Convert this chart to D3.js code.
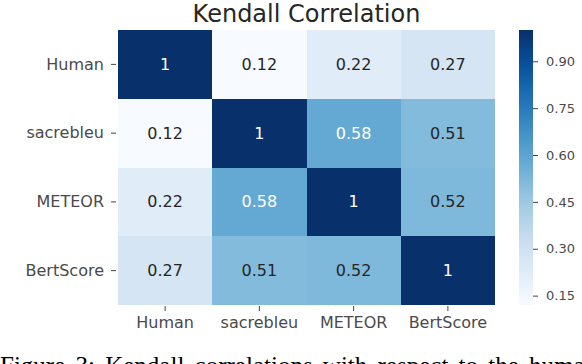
<!DOCTYPE html>
<html>
<head>
<meta charset="utf-8">
<script src="https://cdn.jsdelivr.net/npm/d3@7/dist/d3.min.js"></script>
<style>
html,body{margin:0;padding:0;background:#fff;overflow:hidden;}
svg{display:block;}
</style>
</head>
<body>
<svg id="chart" width="582" height="364"></svg>
<script>
const categories = ["Human", "sacrebleu", "METEOR", "BertScore"];
const row0 = [1, 0.12, 0.22, 0.27];
const row1 = [0.12, 1, 0.58, 0.51];
const row2 = [0.22, 0.58, 1, 0.52];
const row3 = [0.27, 0.51, 0.52, 1];
const matrix = [row0, row1, row2, row3];
const colorbarTicks = [0.15, 0.30, 0.45, 0.60, 0.75, 0.90];
const bluesStops = ["#f7fbff","#deebf7","#c6dbef","#9ecae1","#6baed6","#4292c6","#2171b5","#08519c","#08306b"];
const chartTitle = "Kendall Correlation";
const caption = "Figure 3:  Kendall correlations with respect to the human";

const svg = d3.select("#chart");
const mLeft = 118, mRight = 495, mTop = 30, mBottom = 305;

const vmin = d3.min(matrix.flat()), vmax = d3.max(matrix.flat());
const cmap = d3.scaleLinear()
  .domain(bluesStops.map((d,i)=> vmin + (vmax - vmin) * i / (bluesStops.length - 1)))
  .range(bluesStops)
  .interpolate(d3.interpolateRgb)
  .clamp(true);

const xs = d3.scaleBand().domain(categories).range([mLeft, mRight]);
const ys = d3.scaleBand().domain(categories).range([mTop, mBottom]);

const cells = [];
matrix.forEach((r, i) => r.forEach((v, j) => cells.push({row: categories[i], col: categories[j], v})));

function lum(c){
  const rgb = d3.rgb(c);
  const f = u => { u /= 255; return u <= 0.03928 ? u/12.92 : Math.pow((u+0.055)/1.055, 2.4); };
  return 0.2126*f(rgb.r) + 0.7152*f(rgb.g) + 0.0722*f(rgb.b);
}

svg.append("g").selectAll("rect").data(cells).join("rect")
  .attr("x", d => xs(d.col))
  .attr("y", d => ys(d.row))
  .attr("width", xs.bandwidth())
  .attr("height", ys.bandwidth())
  .attr("fill", d => cmap(d.v))
  .attr("shape-rendering", "crispEdges");

const fmt = v => d3.format(".2~g")(v);
svg.append("g").selectAll("text").data(cells).join("text")
  .attr("x", d => xs(d.col) + xs.bandwidth()/2)
  .attr("y", d => ys(d.row) + ys.bandwidth()/2)
  .attr("text-anchor", "middle")
  .attr("dominant-baseline", "central")
  .attr("font-family", "DejaVu Sans")
  .attr("font-size", 16)
  .attr("fill", d => lum(cmap(d.v)) > 0.408 ? "#262626" : "#ffffff")
  .text(d => fmt(d.v));

// Y axis
const yAxis = d3.axisLeft(ys).tickSize(5).tickPadding(7);
const gy = svg.append("g").attr("transform", `translate(${mLeft - 2},0)`).call(yAxis);
gy.select(".domain").remove();
gy.selectAll(".tick line").attr("stroke", "#444");
gy.selectAll(".tick text").attr("font-family", "DejaVu Sans").attr("font-size", 16).attr("fill", "#4a4a4a");

// X axis
const xAxis = d3.axisBottom(xs).tickSize(5).tickPadding(6);
const gx = svg.append("g").attr("transform", `translate(0,${mBottom + 1})`).call(xAxis);
gx.select(".domain").remove();
gx.selectAll(".tick line").attr("stroke", "#444");
gx.selectAll(".tick text").attr("font-family", "DejaVu Sans").attr("font-size", 16).attr("fill", "#4a4a4a");

// Title
svg.append("text")
  .attr("x", (mLeft + mRight) / 2)
  .attr("y", 22)
  .attr("text-anchor", "middle")
  .attr("font-family", "DejaVu Sans")
  .attr("font-size", 24)
  .attr("fill", "#262626")
  .text(chartTitle);

// Colorbar
const cbX = 519, cbW = 14;
const cbScale = d3.scaleLinear().domain([vmin, vmax]).range([mBottom, mTop]);
const defs = svg.append("defs");
const grad = defs.append("linearGradient").attr("id", "cbgrad")
  .attr("x1", 0).attr("y1", 1).attr("x2", 0).attr("y2", 0);
d3.range(0, 1.0001, 0.05).forEach(t => {
  grad.append("stop").attr("offset", t).attr("stop-color", cmap(vmin + t * (vmax - vmin)));
});
svg.append("rect")
  .attr("x", cbX).attr("y", mTop)
  .attr("width", cbW).attr("height", mBottom - mTop)
  .attr("fill", "url(#cbgrad)");
const cbAxis = d3.axisRight(cbScale).tickValues(colorbarTicks).tickFormat(d3.format(".2f")).tickSize(5).tickPadding(8);
const gc = svg.append("g").attr("transform", `translate(${cbX + cbW},0)`).call(cbAxis);
gc.select(".domain").remove();
gc.selectAll(".tick line").attr("stroke", "#444");
gc.selectAll(".tick text").attr("font-family", "DejaVu Sans").attr("font-size", 13).attr("fill", "#4a4a4a");

// Caption (cut off at bottom)
svg.append("text")
  .attr("x", 0)
  .attr("y", 374)
  .attr("font-family", "Liberation Serif")
  .attr("font-size", 25)
  .attr("fill", "#000")
  .attr("word-spacing", 4)
  .text(caption);
</script>
</body>
</html>
